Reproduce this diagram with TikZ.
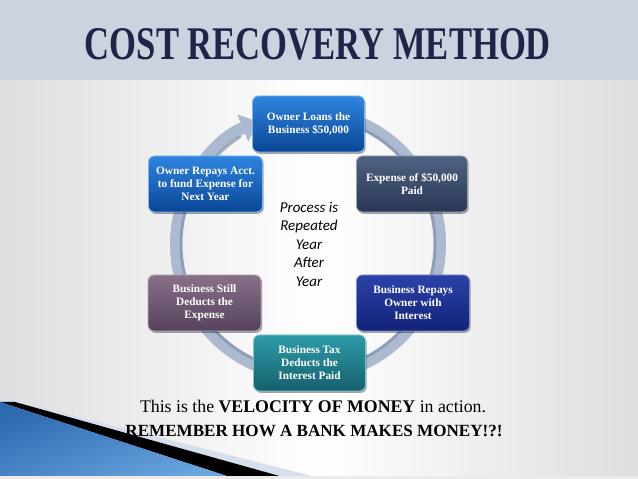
\documentclass[tikz,border=0pt]{standalone}
\usepackage{fontspec}
\setmainfont{Liberation Serif}
\newfontfamily\carlitofont{Carlito}
\usetikzlibrary{arrows.meta,shadows}
\definecolor{band}{RGB}{204,210,222}
\definecolor{titlec}{RGB}{31,36,72}
\definecolor{ringc}{RGB}{172,186,208}
\definecolor{ringd}{RGB}{128,144,174}
\definecolor{blueT}{RGB}{46,132,222}
\definecolor{blueB}{RGB}{10,70,150}
\definecolor{slateT}{RGB}{80,98,130}
\definecolor{slateB}{RGB}{40,55,84}
\definecolor{navyT}{RGB}{44,66,168}
\definecolor{navyB}{RGB}{18,34,120}
\definecolor{plumT}{RGB}{136,112,136}
\definecolor{plumB}{RGB}{86,66,92}
\definecolor{tealT}{RGB}{46,156,168}
\definecolor{tealB}{RGB}{20,96,108}
\definecolor{decoblue}{RGB}{46,106,176}
\definecolor{decolight}{RGB}{104,164,222}
\definecolor{decopale}{RGB}{214,224,236}
\tikzset{
  stepbox/.style={rounded corners=6pt, minimum width=#1, minimum height=56pt,
    inner sep=2pt, align=center, text=white,
    font=\fontsize{11.3}{13}\selectfont\bfseries, line width=0.9pt,
    drop shadow={shadow xshift=1.2pt,shadow yshift=-1.8pt,fill=black,opacity=0.35}},
  ringline/.style={line width=12pt, color=ringc},
  cycletext/.style={align=center, font=\carlitofont\itshape\fontsize{15}{18.5}\selectfont, text=black}
}
\begin{document}
\begin{tikzpicture}[x=1pt,y=1pt]
\useasboundingbox (0,0) rectangle (638,479);
% background
\shade[left color=black!13, right color=black!13, middle color=white] (0,0) rectangle (638,399);
\fill[band] (0,399) rectangle (638,479);
% bottom-left decoration
\fill[decopale] (0,82) -- (312,3) -- (0,3) -- cycle;
\fill[black] (15,77) -- (283,2) -- (230,2) -- (0,77) -- cycle;
\shade[top color=decoblue, bottom color=decolight, shading angle=20] (0,77) -- (230,2) -- (0,2) -- cycle;
\fill[black!8] (0,0) rectangle (638,3);
% title
\node[anchor=south, inner sep=0pt, text=titlec] (title) at (318,419)
  {\resizebox{466pt}{31pt}{\bfseries COST RECOVERY METHOD}};
% ring
\coordinate (c) at (308,235);
\draw[ringline, -{Triangle[width=28pt,length=17pt]}]
  ([shift={(85:132pt)}]c) arc[start angle=85, end angle=-248, radius=132pt];
\draw[line width=3pt, ringd, opacity=0.7]
  ([shift={(85:127pt)}]c) arc[start angle=85, end angle=-238, radius=127pt];
% boxes
\node[stepbox=112pt, top color=blueT, bottom color=blueB, draw=blueT!60!white] (loan) at (308.5,355)
  {Owner Loans the\\Business \$50,000};
\node[stepbox=111pt, top color=slateT, bottom color=slateB, draw=slateT!60!white] (expense) at (412,295)
  {Expense of \$50,000\\Paid};
\node[stepbox=113pt, top color=navyT, bottom color=navyB, draw=navyT!60!white] (repay) at (413,176)
  {Business Repays\\Owner with\\Interest};
\node[stepbox=112pt, top color=tealT, bottom color=tealB, draw=tealT!60!white] (tax) at (309.5,116)
  {Business Tax\\Deducts the\\Interest Paid};
\node[stepbox=113pt, top color=plumT, bottom color=plumB, draw=plumT!60!white] (still) at (204.5,176)
  {Business Still\\Deducts the\\Expense};
\node[stepbox=114pt, top color=blueT, bottom color=blueB, draw=blueT!60!white] (owner) at (205.5,295)
  {Owner Repays Acct.\\to fund Expense for\\Next Year};
% center text
\node[cycletext] (center) at (309,235) {Process is\\Repeated\\Year\\After\\Year};
% bottom text
\node[anchor=base, inner sep=0pt] (line1) at (313,66)
  {\resizebox{346pt}{!}{This is the \textbf{VELOCITY OF MONEY} in action.}};
\node[anchor=base, inner sep=0pt] (line2) at (314,42)
  {\resizebox{377pt}{!}{\bfseries REMEMBER HOW A BANK MAKES MONEY!?!}};
\end{tikzpicture}
\end{document}
